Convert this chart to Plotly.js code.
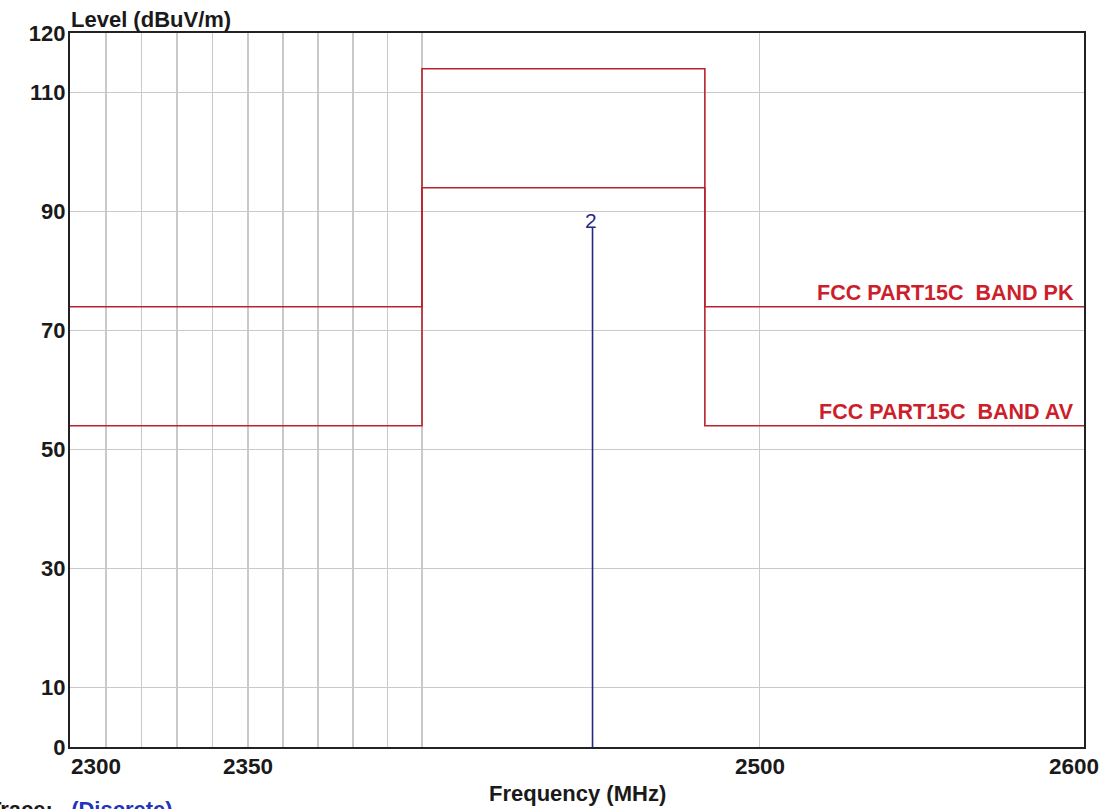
<!DOCTYPE html>
<html>
<head>
<meta charset="utf-8">
<script src="https://cdn.plot.ly/plotly-3.0.1.min.js"></script>
<style>
  html, body { margin: 0; padding: 0; background: #ffffff; }
  #chart { width: 1112px; height: 809px; }
</style>
</head>
<body>
<div id="chart"></div>
<script>
// ---- data ----
const bandFreqs = [2300, 2400, 2400, 2483.5, 2483.5, 2600];
const pkLimit = [74, 74, 114, 114, 74, 74];
const avLimit = [54, 54, 94, 94, 54, 54];
const discreteFreq = [2450, 2450];
const discreteLevel = [0, 87.3];
const discreteMarker = '2';
const yTickVals = [0, 10, 30, 50, 70, 90, 110, 120];
const xGridVals = [2310, 2320, 2330, 2340, 2350, 2360, 2370, 2380, 2390, 2400, 2500];
const xLabelVals = [2300, 2350, 2500, 2600];
const pkLabel = 'FCC PART15C\u00a0\u00a0BAND PK';
const avLabel = 'FCC PART15C\u00a0\u00a0BAND AV';

const FONT = 'Liberation Sans, Arial, sans-serif';
const limitColor = '#b8242e';
const textRed = '#cc1f2c';
const navy = '#262a82';

const traces = [
  { x: bandFreqs, y: pkLimit, mode: 'lines', line: { color: limitColor, width: 1.6 }, hoverinfo: 'skip', showlegend: false },
  { x: bandFreqs, y: avLimit, mode: 'lines', line: { color: limitColor, width: 1.6 }, hoverinfo: 'skip', showlegend: false },
  { x: discreteFreq, y: discreteLevel, mode: 'lines', line: { color: navy, width: 1.6 }, hoverinfo: 'skip', showlegend: false }
];

const annotations = [];
// x tick labels
xLabelVals.forEach((v, i) => {
  let anchor = 'center', shift = 0;
  if (i === 0) { anchor = 'left'; shift = -1; }
  if (i === xLabelVals.length - 1) { anchor = 'center'; shift = -10; }
  annotations.push({
    x: Math.log10(v), xref: 'x', y: 0, yref: 'paper', yanchor: 'top', xanchor: anchor,
    xshift: shift, yshift: -5, showarrow: false, text: String(v),
    font: { family: FONT, size: 22.5, weight: 'bold', color: '#1a1a1a' }
  });
});
// y title
annotations.push({
  x: 0, xref: 'paper', y: 1, yref: 'paper', xanchor: 'left', yanchor: 'middle', yshift: 14, xshift: -1,
  showarrow: false, text: 'Level (dBuV/m)', font: { family: FONT, size: 22, weight: 'bold', color: '#1a1a1a' }
});
// x title
annotations.push({
  x: 0.5, xref: 'paper', y: 0, yref: 'paper', xanchor: 'center', yanchor: 'middle', yshift: -46,
  showarrow: false, text: 'Frequency (MHz)', font: { family: FONT, size: 22, weight: 'bold', color: '#1a1a1a' }
});
// trace caption
annotations.push({
  x: 0, xref: 'paper', y: 0, yref: 'paper', xanchor: 'left', yanchor: 'middle', xshift: -84, yshift: -62,
  showarrow: false, text: 'Trace:\u00a0\u00a0\u00a0<span style="color:#2233bb">(Discrete)</span>',
  font: { family: FONT, size: 22, weight: 'bold', color: '#1a1a1a' }
});
// limit labels
annotations.push({
  x: Math.log10(2600), xref: 'x', y: pkLimit[pkLimit.length - 1], yref: 'y', xanchor: 'right', yanchor: 'bottom',
  xshift: -8, yshift: 0, showarrow: false, text: pkLabel,
  font: { family: FONT, size: 21.5, weight: 'bold', color: textRed }
});
annotations.push({
  x: Math.log10(2600), xref: 'x', y: avLimit[avLimit.length - 1], yref: 'y', xanchor: 'right', yanchor: 'bottom',
  xshift: -8, yshift: 0, showarrow: false, text: avLabel,
  font: { family: FONT, size: 21.5, weight: 'bold', color: textRed }
});
// discrete marker label
annotations.push({
  x: Math.log10(discreteFreq[1]), xref: 'x', y: discreteLevel[1], yref: 'y', xanchor: 'center', yanchor: 'middle',
  xshift: -2, yshift: 7, showarrow: false, text: discreteMarker,
  font: { family: FONT, size: 21, color: navy }
});

const layout = {
  width: 1112, height: 809,
  margin: { l: 70, r: 28, t: 33, b: 62, pad: 0 },
  paper_bgcolor: '#ffffff', plot_bgcolor: '#ffffff',
  showlegend: false,
  xaxis: {
    type: 'log', range: [Math.log10(2300), Math.log10(2600)],
    tickvals: xGridVals, showticklabels: false, ticks: '',
    showgrid: true, gridcolor: '#c9c9c9', gridwidth: 1.5,
    showline: true, mirror: true, linecolor: '#222222', linewidth: 2.2,
    zeroline: false, fixedrange: true
  },
  yaxis: {
    range: [0, 120], tickvals: yTickVals, ticktext: yTickVals.map(String), ticks: '',
    showgrid: true, gridcolor: '#c9c9c9', gridwidth: 1.5,
    showline: true, mirror: true, linecolor: '#222222', linewidth: 2.2,
    zeroline: false, ticklabelstandoff: -2,
    tickfont: { family: FONT, size: 22, weight: 'bold', color: '#1a1a1a' }, fixedrange: true
  },
  annotations: annotations
};

Plotly.newPlot('chart', traces, layout, { displayModeBar: false, staticPlot: true });
</script>
</body>
</html>
